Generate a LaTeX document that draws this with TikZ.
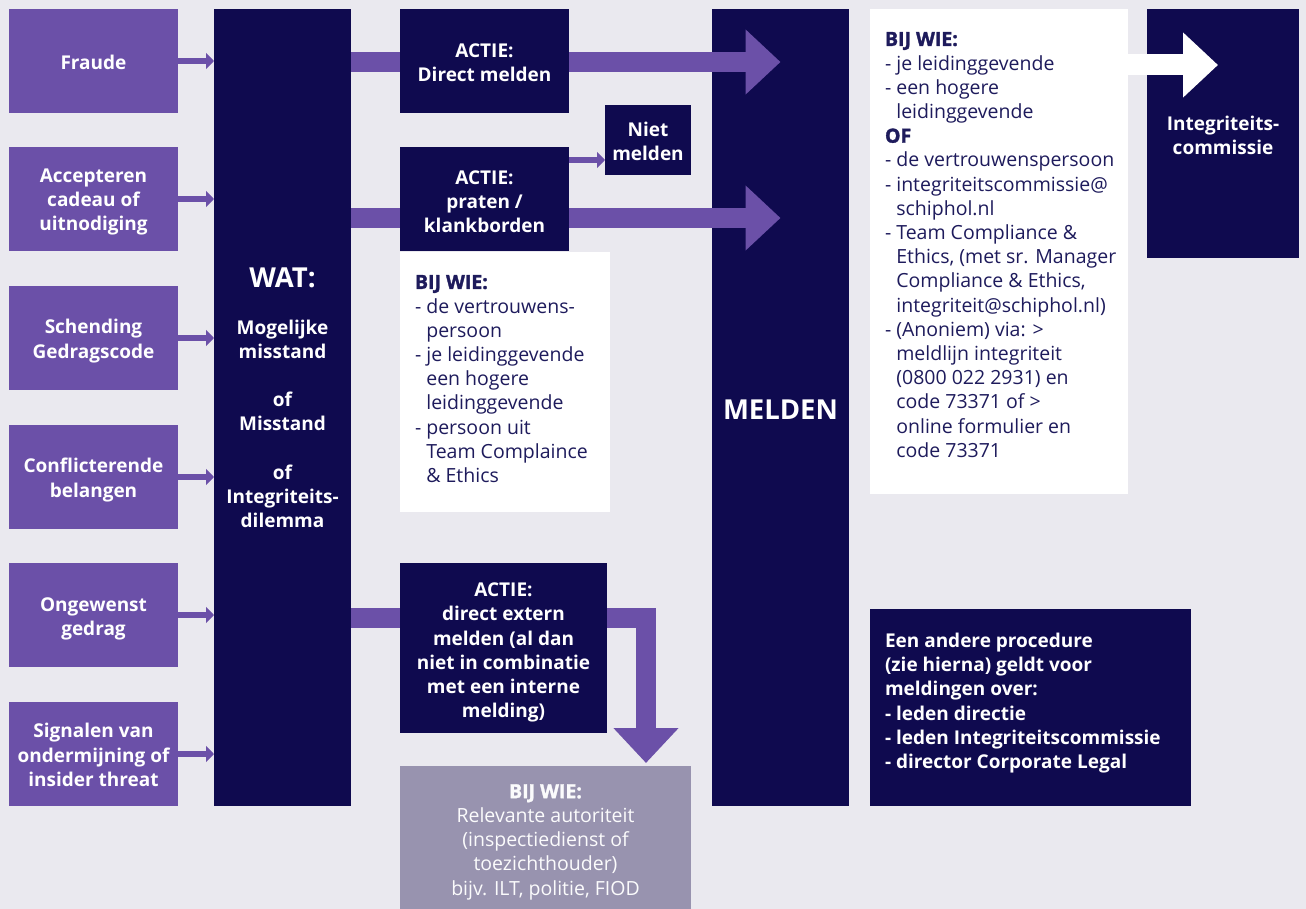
\documentclass[tikz,border=0pt]{standalone}
\usepackage{fontspec}
\setmainfont{Open Sans}
\newfontfamily\heavyfnt{Open Sans}[BoldFeatures={FakeBold=1.6}]
\usetikzlibrary{arrows.meta}
\definecolor{bgc}{HTML}{EAE9EF}
\definecolor{purp}{HTML}{6B50A8}
\definecolor{navy}{HTML}{0F0A4F}
\definecolor{greyb}{HTML}{9893AF}
\definecolor{tnavy}{HTML}{1E1B5C}
\newcommand{\ind}{\phantom{- }}
\newcommand{\bigfnt}{\fontsize{27.5}{30}\selectfont\bfseries}
\newcommand{\hd}[1]{{\heavyfnt\bfseries #1}}
\begin{document}
\begin{tikzpicture}[x=1pt,y=-1pt,
  w/.style={minimum width=#1pt},
  h/.style={minimum height=#1pt},
  basebox/.style={inner sep=0pt, outer sep=0pt},
  pbox/.style={basebox, fill=purp, w=169, h=104},
  nbox/.style={basebox, fill=navy},
  wbox/.style={basebox, fill=white},
  txt/.style={inner sep=0pt, outer sep=0pt, align=left, anchor=north west,
    font=\fontsize{19.5}{24.2}\selectfont, text=tnavy},
  ctxt/.style={inner sep=0pt, outer sep=0pt, align=center, yshift=-3pt,
    font=\fontsize{19}{24.2}\selectfont\bfseries, text=white},
  bigarrow/.style={draw=purp, line width=20pt, line join=miter,
    -{Triangle[width=63pt,length=35pt]}},
  bar/.style={draw=purp, line width=20pt},
  smallarrow/.style={draw=purp, line width=5.5pt,
    -{Triangle[width=16pt,length=8pt]}},
  whitearrow/.style={draw=white, line width=21pt,
    -{Triangle[width=63pt,length=35pt]}}
]
\path[use as bounding box, fill=bgc] (0,0) rectangle (1306,909);

% left column
\node[pbox] (f1) at (93.5,61) {};
\node[pbox] (f2) at (93.5,199) {};
\node[pbox] (f3) at (93.5,338) {};
\node[pbox] (f4) at (93.5,477) {};
\node[pbox] (f5) at (93.5,615) {};
\node[pbox] (f6) at (93.5,754) {};
\node[ctxt, yshift=2pt] (f1t) at (f1.center) {Fraude};
\node[ctxt] (f2t) at (f2.center) {Accepteren\\cadeau of\\uitnodiging};
\node[ctxt] (f3t) at (f3.center) {Schending\\Gedragscode};
\node[ctxt] (f4t) at (f4.center) {Conflicterende\\belangen};
\node[ctxt, yshift=-1pt] (f5t) at (f5.center) {Ongewenst\\gedrag};
\node[ctxt, yshift=2pt] (f6t) at (f6.center) {Signalen van\\ondermijning of\\insider threat};

% WAT column
\node[nbox, w=137, h=797] (wat) at (282.5,407.5) {};
\node[ctxt] (wattxt) at (282.5,395) {{\bigfnt WAT:}\\[22pt]Mogelijke\\misstand\\[24.2pt]of\\Misstand\\[24.2pt]of\\Integriteits-\\dilemma};

% MELDEN column
\node[nbox, w=137, h=797] (melden) at (780.5,407.5) {};
\node[ctxt, font=\bigfnt, yshift=0pt] (meldent) at (780.5,407) {MELDEN};

% actions
\node[nbox, w=169, h=104] (a1) at (484.5,61) {};
\node[nbox, w=169, h=104] (a2) at (484.5,199) {};
\node[nbox, w=86, h=70] (niet) at (648,140) {};
\node[nbox, w=207, h=170] (a3) at (503.5,648) {};
\node[ctxt, yshift=1pt] (a1t) at (a1.center) {ACTIE:\\Direct melden};
\node[ctxt] (a2t) at (a2.center) {ACTIE:\\praten /\\klankborden};
\node[ctxt, yshift=2pt] (nt) at (niet.center) {Niet\\melden};
\node[ctxt, yshift=-1.5pt] (a3t) at (a3.center) {ACTIE:\\direct extern\\melden (al dan\\niet in combinatie\\met een interne\\melding)};

% white box 1
\node[wbox, w=210, h=260] (wie1) at (505,382) {};
\node[txt] (wie1t) at (415,275) {\hd{BIJ WIE:}\\
- de vertrouwens-\\
\ind persoon\\
- je leidinggevende\\
\ind een hogere\\
\ind leidinggevende\\
- persoon uit\\
\ind Team Complaince\\
\ind \& Ethics};

% grey box
\node[basebox, fill=greyb, w=291, h=143] (grey) at (545.5,837.5) {};
\node[ctxt, font=\fontsize{19.5}{24.2}\selectfont, text=white!96!greyb] (greyt) at (545.5,839) {\hd{BIJ WIE:}\\Relevante autoriteit\\(inspectiedienst of\\toezichthouder)\\bijv. ILT, politie, FIOD};

% white box 2
\node[wbox, w=258, h=485] (wie2) at (999,251.5) {};
\node[txt] (wie2t) at (885,32) {\hd{BIJ WIE:}\\
- je leidinggevende\\
- een hogere\\
\ind leidinggevende\\
\hd{OF}\\
- de vertrouwenspersoon\\
- integriteitscommissie@\\
\ind schiphol.nl\\
- Team Compliance \&\\
\ind Ethics, (met sr. Manager\\
\ind Compliance \& Ethics,\\
\ind integriteit@schiphol.nl)\\
- (Anoniem) via: >\\
\ind meldlijn integriteit\\
\ind (0800 022 2931) en\\
\ind code 73371 of >\\
\ind online formulier en\\
\ind code 73371};

% integriteitscommissie
\node[nbox, w=152, h=249] (integ) at (1223,133.5) {};
\node[ctxt, yshift=0pt] (integt) at (1223,132) {Integriteits-\\commissie};

% other procedure
\node[nbox, w=321, h=197] (other) at (1030.5,707.5) {};
\node[ctxt, align=left, anchor=north west, yshift=0pt] (othert) at (885,630) {Een andere procedure\\(zie hierna) geldt voor\\meldingen over:\\- leden directie\\- leden Integriteitscommissie\\- director Corporate Legal};

% connectors: left boxes to WAT
\foreach \i in {1,...,6} {
  \draw[smallarrow] (f\i.east) -- (f\i.east -| wat.west);
}

% WAT to actions
\coordinate (r1) at ([yshift=-1pt]a1.west);
\coordinate (r2) at ([yshift=-19pt]a2.west);
\coordinate (r3) at ([yshift=30pt]a3.west);
\coordinate (n2) at ([yshift=39pt]a2.east);
\coordinate (tip3) at (646,763);
\coordinate (wt) at (1218,65);

\draw[bar] (r1 -| wat.east) -- (r1);
\draw[bar] (r2 -| wat.east) -- (r2);
\draw[bar] (r3 -| wat.east) -- (r3);

\draw[bigarrow] (r1 -| a1.east) -- (r1 -| melden.center);
\draw[bigarrow] (r2 -| a2.east) -- (r2 -| melden.center);
\draw[smallarrow] (n2) -- (n2 -| niet.west);
\draw[bigarrow] (r3 -| a3.east) -| (tip3);
\draw[whitearrow] (wt -| wie2.east) -- (wt);
\end{tikzpicture}
\end{document}
